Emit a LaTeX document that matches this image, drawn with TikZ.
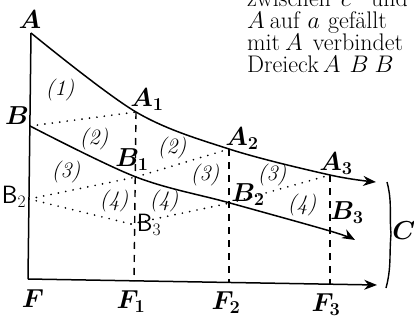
\RequirePackage{fix-cm}
\documentclass[tikz,border=0pt]{standalone}
\usepackage{tikz}
\usetikzlibrary{arrows.meta}

\begin{document}
\begin{tikzpicture}[
x=1pt, y=-1pt,
lbl/.style={inner sep=0pt, font=\fontsize{26}{28}\selectfont\boldmath},
sflbl/.style={inner sep=0pt, font=\fontsize{25}{27}\selectfont},
num/.style={inner sep=0pt, font=\fontsize{22}{24}\selectfont\itshape},
txt/.style={inner sep=0pt, anchor=base west, font=\fontsize{24}{26}\selectfont},
curve/.style={line width=1.5pt, -{Stealth[length=4.5mm, width=3.5mm]}},
axis/.style={line width=1.5pt},
dotline/.style={line width=1.9pt, dash pattern=on 0pt off 7.5pt, line cap=round},
dashline/.style={line width=1.4pt, dash pattern=on 7pt off 6pt}
]
\useasboundingbox (0,0) rectangle (414,324);

% points on the two curves
\coordinate (A) at (31,33);
\coordinate (A1) at (136,112);
\coordinate (A2) at (229,149);
\coordinate (A3) at (330,175);
\coordinate (Aend) at (376,182);
\coordinate (B) at (30,126);
\coordinate (B1) at (136,177);
\coordinate (B2) at (230,203);
\coordinate (B3) at (330,231);
\coordinate (Bend) at (355,240);
\coordinate (B2l) at (29,199);
\coordinate (B3l) at (131,224);
% foot points
\coordinate (F) at (28,279);
\coordinate (F1) at (134,281);
\coordinate (F2) at (229,283);
\coordinate (F3) at (330,284);
\coordinate (Fend) at (377,285);

% axes
\draw[axis] (A) -- (F);
\draw[curve] (F) -- (Fend);

% curves
\draw[curve] plot[smooth, tension=0.55] coordinates {(A) (A1) (A2) (A3) (Aend)};
\draw[curve] plot[smooth, tension=0.55] coordinates {(B) (B1) (B2) (B3) (Bend)};

% dotted connections
\draw[dotline] (B) -- (A1);
\draw[dotline] (B1) -- (A2);
\draw[dotline] (B2) -- (A3);
\draw[dotline] (B2l) -- (B1);
\draw[dotline] (B2l) -- (B3l);
\draw[dotline] (B3l) -- (B2);

% verticals
\draw[dashline] (A1) -- (F1);
\draw[dashline] (A2) -- (F2);
\draw[dashline] (A3) -- (F3);

% brace
\coordinate (Ctop) at (387,182);
\coordinate (Cmid) at (391,234);
\coordinate (Cbot) at (386,288);
\draw[line width=1.4pt] (Ctop) to[out=-75,in=95] (Cmid) to[out=-95,in=75] (Cbot);

% labels
\node[lbl] (lA) at (30,20) {$A$};
\node[lbl] (lB) at (17,116) {$B$};
\node[sflbl] (lB2l) at (14,197) {\textsf{B}$_2$};
\node[lbl] (lA1) at (147,100) {$A_1$};
\node[lbl] (lA2) at (242,139) {$A_2$};
\node[lbl] (lA3) at (336,164) {$A_3$};
\node[lbl] (lB1) at (132,160) {$B_1$};
\node[lbl] (lB2) at (248,195) {$B_2$};
\node[lbl] (lB3) at (347,213) {$B_3$};
\node[sflbl] (lB3l) at (149,225) {\textsf{B}$_3$};
\node[lbl] (lF) at (33,299) {$F$};
\node[lbl] (lF1) at (131,302) {$F_1$};
\node[lbl] (lF2) at (226,303) {$F_2$};
\node[lbl] (lF3) at (326,305) {$F_3$};
\node[lbl] (lC) at (404,231) {$C$};

\node[num] (n1) at (60,90) {(1)};
\node[num] (n2a) at (94,139) {(2)};
\node[num] (n2b) at (172,148) {(2)};
\node[num] (n3a) at (66,172) {(3)};
\node[num] (n3b) at (205,175) {(3)};
\node[num] (n3c) at (272,175) {(3)};
\node[num] (n4a) at (114,201) {(4)};
\node[num] (n4b) at (164,201) {(4)};
\node[num] (n4c) at (302,205) {(4)};

% running text on the right
\node[txt] (t0) at (247,6) {zwischen\hspace{10pt}$c$\hspace{20pt}und};
\node[txt] (t1) at (247,28) {$A$\hspace{5pt}auf\hspace{8pt}$a$\hspace{8pt}gef\"allt};
\node[txt] (t2) at (247,50) {mit\hspace{5pt}$A$\hspace{10pt}verbindet};
\node[txt] (t3) at (247,72) {Dreieck\hspace{4pt}$A\hspace{9pt}B\hspace{6pt}B$};
\end{tikzpicture}
\end{document}
